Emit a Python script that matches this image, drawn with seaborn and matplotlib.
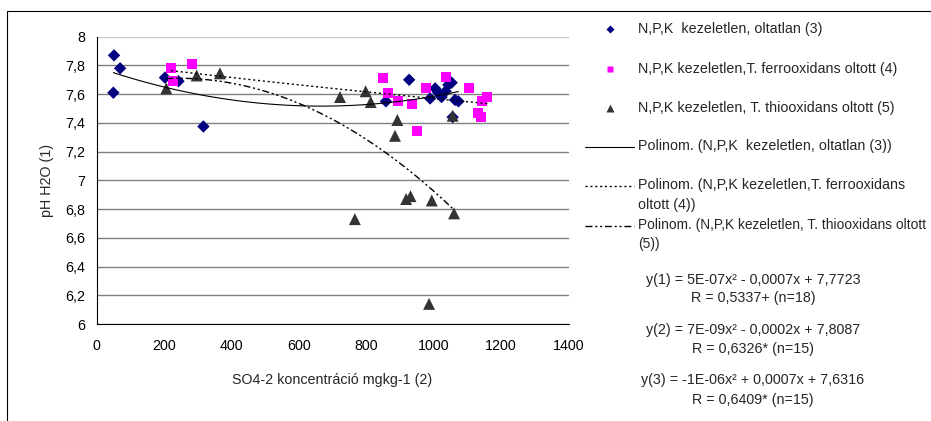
import numpy as np
import pandas as pd
import matplotlib
matplotlib.use("Agg")
import matplotlib.pyplot as plt
import seaborn as sns
from matplotlib.patches import Rectangle
from matplotlib.lines import Line2D
from matplotlib.ticker import FuncFormatter

# ---- data ----
x_oltatlan = [52, 70, 50, 203, 243, 317, 858, 927, 989, 1004, 1013, 1023, 1035, 1043, 1053, 1063, 1073, 1056]
y_oltatlan = [7.87, 7.78, 7.61, 7.715, 7.69, 7.375, 7.55, 7.70, 7.57, 7.64, 7.61, 7.58, 7.62, 7.665, 7.68, 7.56, 7.55, 7.44]

x_ferro = [221, 282, 228, 848, 865, 895, 936, 951, 976, 1035, 1104, 1159, 1144, 1132, 1140]
y_ferro = [7.78, 7.81, 7.69, 7.71, 7.61, 7.55, 7.53, 7.345, 7.645, 7.72, 7.64, 7.58, 7.55, 7.47, 7.44]

x_thio = [207, 297, 366, 722, 798, 813, 885, 892, 918, 931, 994, 1060, 1056, 986, 766]
y_thio = [7.64, 7.73, 7.745, 7.58, 7.62, 7.545, 7.31, 7.42, 6.87, 6.89, 6.86, 6.77, 7.45, 6.14, 6.73]

series_labels = [
    "N,P,K  kezeletlen, oltatlan (3)",
    "N,P,K kezeletlen,T. ferrooxidans oltott (4)",
    "N,P,K kezeletlen, T. thiooxidans oltott (5)",
]
trend_labels = [
    "Polinom. (N,P,K  kezeletlen, oltatlan (3))",
    "Polinom. (N,P,K kezeletlen,T. ferrooxidans\noltott (4))",
    "Polinom. (N,P,K kezeletlen, T. thiooxidans oltott\n(5))",
]
equations = [
    "y(1) = 5E-07x\u00b2 - 0,0007x + 7,7723",
    "R = 0,5337+ (n=18)",
    "y(2) = 7E-09x\u00b2 - 0,0002x + 7,8087",
    "R = 0,6326* (n=15)",
    "y(3) = -1E-06x\u00b2 + 0,0007x + 7,6316",
    "R = 0,6409* (n=15)",
]
x_ticks = [0, 200, 400, 600, 800, 1000, 1200, 1400]
y_ticks = [6.0, 6.2, 6.4, 6.6, 6.8, 7.0, 7.2, 7.4, 7.6, 7.8, 8.0]
x_label = "SO4-2 koncentráció mgkg-1 (2)"
y_label = "pH H2O (1)"

# ---- style ----
sns.set_style("white")
plt.rcParams["font.family"] = ["Liberation Sans", "DejaVu Sans"]
FS = 10.3

COL1, COL2, COL3 = "#000080", "#FF00FF", "#333333"
LS1, LS2, LS3 = "-", (0, (1.5, 2)), (0, (5, 2, 1.5, 2, 1.5, 2))

W, H = 931, 421
fig = plt.figure(figsize=(W / 100, H / 100), dpi=100)
L, R, T, B = 96.5, 568.7, 36.7, 324.0
ax = fig.add_axes([L / W, 1 - B / H, (R - L) / W, (B - T) / H])

df1 = pd.DataFrame({"x": x_oltatlan, "y": y_oltatlan})
df2 = pd.DataFrame({"x": x_ferro, "y": y_ferro})
df3 = pd.DataFrame({"x": x_thio, "y": y_thio})

# markers
sns.scatterplot(data=df1, x="x", y="y", marker="D", s=40, color=COL1,
                edgecolor="none", linewidth=0, ax=ax, zorder=3)
sns.scatterplot(data=df2, x="x", y="y", marker="s", s=52, color=COL2,
                edgecolor="none", linewidth=0, ax=ax, zorder=3)
sns.scatterplot(data=df3, x="x", y="y", marker="^", s=74, color=COL3,
                edgecolor="none", linewidth=0, ax=ax, zorder=3)

# polynomial trend lines
sns.regplot(data=df1, x="x", y="y", order=2, scatter=False, ci=None, ax=ax,
            line_kws=dict(color="black", lw=0.8, ls=LS1, zorder=4))
sns.regplot(data=df2, x="x", y="y", order=2, scatter=False, ci=None, ax=ax,
            line_kws=dict(color="black", lw=1.0, ls=LS2, zorder=4))
sns.regplot(data=df3, x="x", y="y", order=2, scatter=False, ci=None, ax=ax,
            line_kws=dict(color="black", lw=1.0, ls=LS3, zorder=4))

ax.set_xlim(0, 1400)
ax.set_ylim(6, 8)
ax.set_xticks(x_ticks)
ax.set_yticks(y_ticks)

def comma_fmt(v, pos):
    s = ("%.1f" % v).rstrip("0").rstrip(".")
    return s.replace(".", ",")

ax.yaxis.set_major_formatter(FuncFormatter(comma_fmt))
ax.xaxis.set_major_formatter(FuncFormatter(lambda v, p: "%d" % v))

ax.grid(axis="y", color="#808080", lw=1.0)
ax.set_axisbelow(True)
glines = ax.yaxis.get_gridlines()
glines[-1].set_color("#c8c8c8")

for side in ["top", "right"]:
    ax.spines[side].set_visible(False)
for side in ["left", "bottom"]:
    ax.spines[side].set_color("black")
    ax.spines[side].set_linewidth(0.8)

ax.tick_params(axis="both", which="major", direction="out", length=4, width=0.8,
               color="black", labelsize=FS, labelcolor="black", pad=4)
ax.tick_params(axis="x", pad=7)
ax.set_xlabel(x_label, fontsize=FS, labelpad=14)
ax.set_ylabel(y_label, fontsize=FS, labelpad=8)

# legend (laid out like the original spreadsheet legend)
def fx(px):
    return px / W

def fy(py):
    return 1 - py / H

marker_specs = [("D", 4.2, COL1), ("s", 5.0, COL2), ("^", 5.8, COL3)]
row_y = [29, 69, 108]
for (mk, ms, col), lab, yy in zip(marker_specs, series_labels, row_y):
    fig.add_artist(Line2D([fx(610)], [fy(yy)], marker=mk, ms=ms, color=col,
                          mec="none", ls="none", transform=fig.transFigure))
    fig.text(fx(638), fy(yy), lab, ha="left", va="center", fontsize=FS)

line_specs = [(LS1, 0.8, FS), (LS2, 1.0, FS), (LS3, 1.0, 9.9)]
line_y = [147, 186, 226]
for (ls, lw, fs), lab, yy in zip(line_specs, trend_labels, line_y):
    fig.add_artist(Line2D([fx(585), fx(634)], [fy(yy), fy(yy)], color="black",
                          lw=lw, ls=ls, transform=fig.transFigure))
    fig.text(fx(638), fy(yy - 8), lab, ha="left", va="top", fontsize=fs,
             linespacing=1.5)

# equations
eq_y = [280, 298, 330, 349, 380, 400]
for txt, yy in zip(equations, eq_y):
    fig.text(fx(753), fy(yy), txt, ha="center", va="center", fontsize=FS)

# outer frame of the chart
fig.add_artist(Rectangle((7 / W, -0.2), 2.0, 1.2 - 10.5 / H,
                         transform=fig.transFigure, fill=False,
                         edgecolor="black", lw=0.8))

fig.savefig("out.png", dpi=100)
